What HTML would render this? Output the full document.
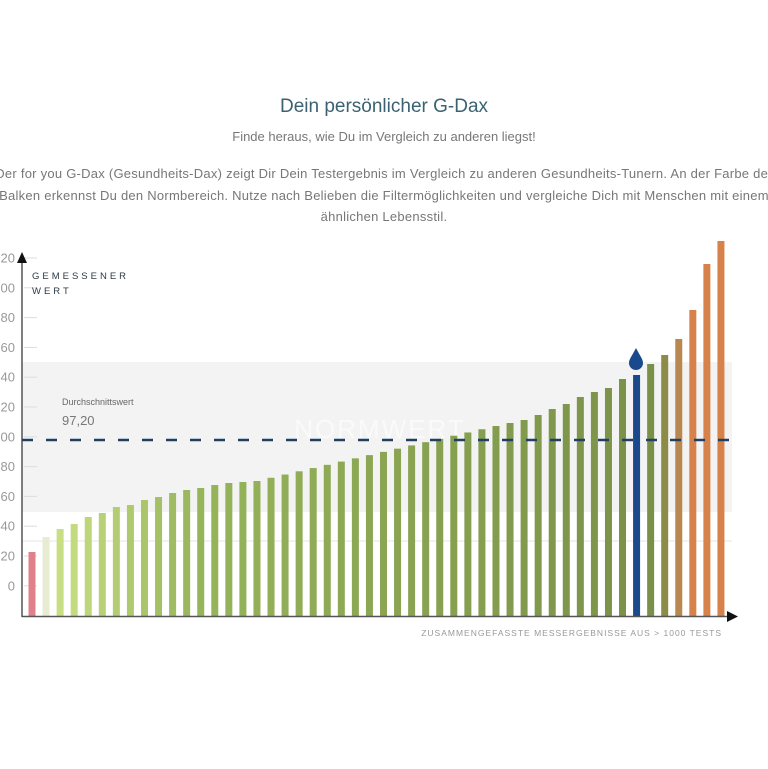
<!DOCTYPE html>
<html><head><meta charset="utf-8"><style>
body{margin:0;width:768px;height:769px;background:#fff;overflow:hidden;font-family:"Liberation Sans",sans-serif;position:relative}
.c{position:absolute;left:-150px;width:1068px;text-align:center;white-space:nowrap}
</style></head><body>
<div class="c" style="top:96px;font-size:19px;color:#3a6272">Dein persönlicher G-Dax</div>
<div class="c" style="top:129px;font-size:13px;color:#777">Finde heraus, wie Du im Vergleich zu anderen liegst!</div>
<div class="c" style="top:163px;font-size:13px;color:#777;line-height:21.5px;letter-spacing:0.25px">Der for you G-Dax (Gesundheits-Dax) zeigt Dir Dein Testergebnis im Vergleich zu anderen Gesundheits-Tunern. An der Farbe der<br>Balken erkennst Du den Normbereich. Nutze nach Belieben die Filtermöglichkeiten und vergleiche Dich mit Menschen mit einem<br>ähnlichen Lebensstil.</div>
<svg width="768" height="769" style="position:absolute;left:0;top:0" font-family="Liberation Sans, sans-serif">
<rect x="22" y="362" width="710" height="150" fill="#f3f3f3"/>
<line x1="22" y1="541" x2="732" y2="541" stroke="#e4e4e4"/>
<text x="380" y="438" font-size="26" fill="#fff" opacity="0.6" text-anchor="middle" letter-spacing="2">NORMWERT</text>
<g id="labels" font-size="13" fill="#999" text-anchor="end"></g>
<g id="bars"></g>
<line x1="22" y1="258" x2="22" y2="617" stroke="#555" stroke-width="1.5"/>
<polygon points="17,263 27,263 22,252" fill="#111"/>
<line x1="22" y1="616.5" x2="732" y2="616.5" stroke="#555" stroke-width="1.5"/>
<polygon points="727,611 727,622 738,616.5" fill="#111"/>
<line x1="22" y1="440" x2="732" y2="440" stroke="#22405e" stroke-width="2.5" stroke-dasharray="11,13"/>
<text x="32" y="279" font-size="9.5" fill="#2b3a44" letter-spacing="3">GEMESSENER</text>
<text x="32" y="294" font-size="9.5" fill="#2b3a44" letter-spacing="3">WERT</text>
<text x="62" y="405" font-size="9" fill="#666">Durchschnittswert</text>
<text x="62" y="425" font-size="13" fill="#777">97,20</text>
<text x="722" y="636" font-size="8.5" fill="#999" text-anchor="end" letter-spacing="1">ZUSAMMENGEFASSTE MESSERGEBNISSE AUS &gt; 1000 TESTS</text>
<path d="M636,348 C632,356 629,359 629,363 A7,7 0 0 0 643,363 C643,359 640,356 636,348Z" fill="#1a4a8c"/>
</svg>
<script>
var NS="http://www.w3.org/2000/svg";
var L=["20","00","80","60","40","20","00","80","60","40","20","0"],g=document.getElementById("labels");
L.forEach(function(t,i){var y=258+i*29.8;var e=document.createElementNS(NS,"text");e.setAttribute("x",15);e.setAttribute("y",y+4.5);e.textContent=t;g.appendChild(e);
var l=document.createElementNS(NS,"line");l.setAttribute("x1",24);l.setAttribute("x2",37);l.setAttribute("y1",y);l.setAttribute("y2",y);l.setAttribute("stroke","#ddd");g.appendChild(l);});
var tops=[552,537,529,524,517,513,507,505,500,497,493,490,488,485,483,482,481];
for(var i=17;i<=33;i++)tops.push(481-(i-16)*(481-426)/17);
tops=tops.concat([423,420,415,409,404,397,392,388,379,375,364,355,339,310,264,241]);
function mix(a,b,t){return a.map(function(v,k){return Math.round(v+(b[k]-v)*t)})}
var b=document.getElementById("bars");
tops.forEach(function(y,i){var x=32+i*14.06,c;
if(i==0)c=[224,128,138];else if(i==1)c=[232,236,210];
else if(i<=12)c=mix([200,222,130],[150,180,90],(i-2)/10);
else if(i<=44)c=mix([150,180,90],[122,144,72],(i-12)/32);
else if(i==45)c=[140,140,72];else if(i==46)c=[184,136,80];else c=[214,130,74];
if(i==43)c=[26,74,140];
var r=document.createElementNS(NS,"rect");r.setAttribute("x",x-3.5);r.setAttribute("y",y);r.setAttribute("width",7);r.setAttribute("height",616-y);r.setAttribute("fill","rgb("+c+")");b.appendChild(r);});
</script>
</body></html>
